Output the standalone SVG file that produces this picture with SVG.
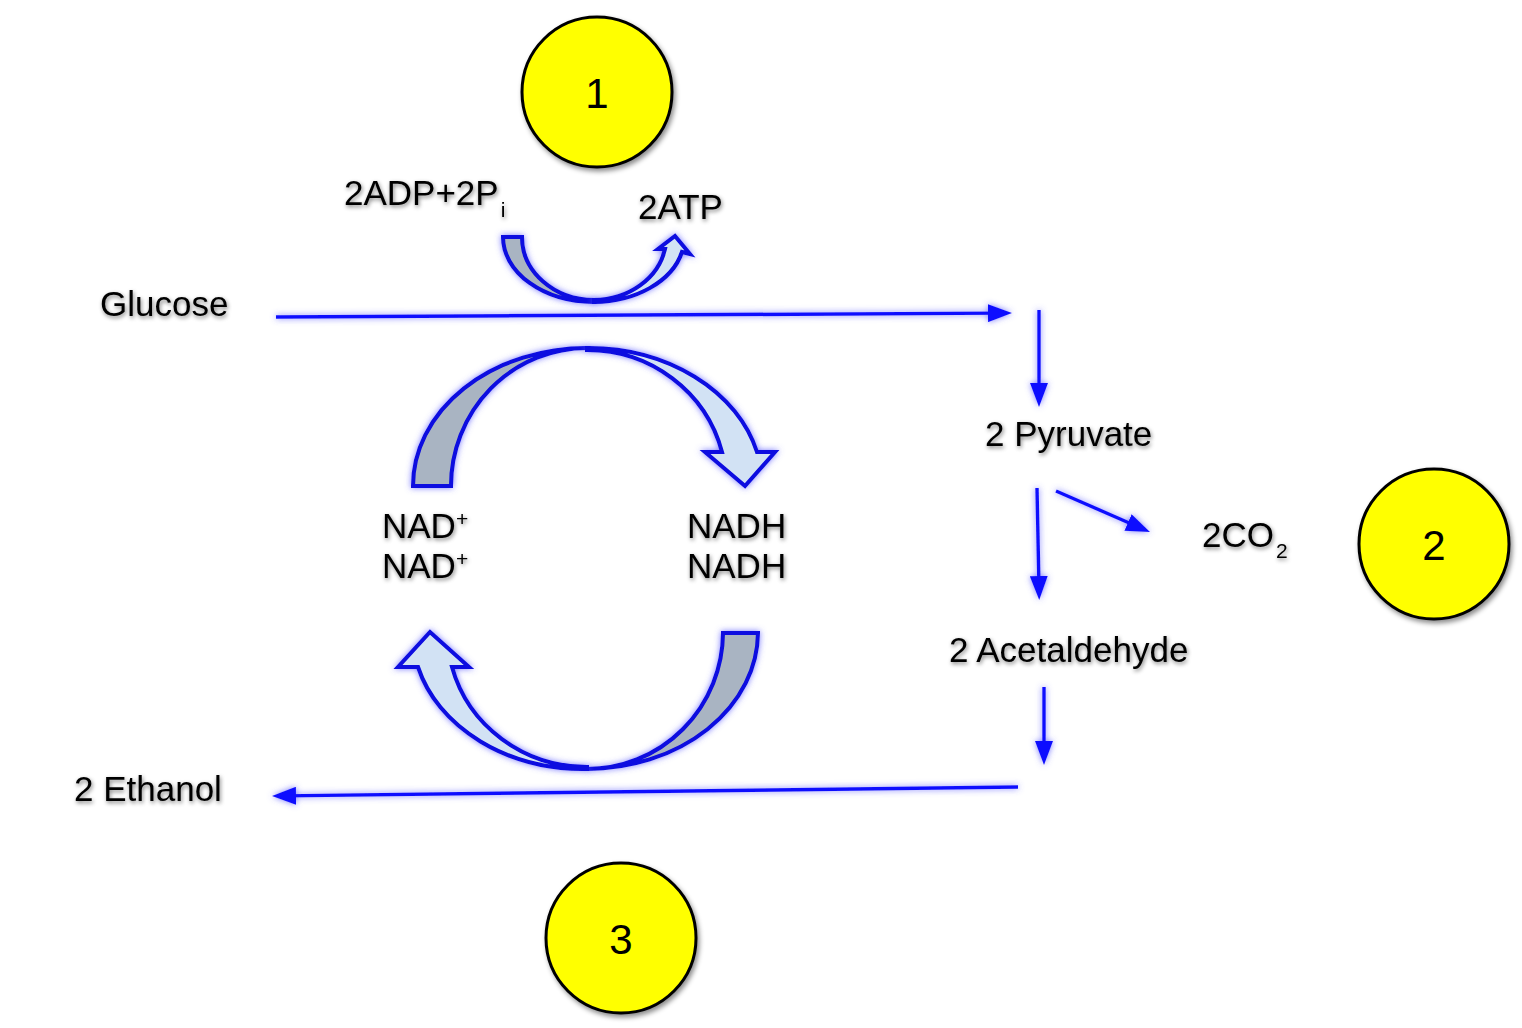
<svg xmlns="http://www.w3.org/2000/svg" width="1522" height="1028" viewBox="0 0 1522 1028">
<defs>
<style>
.t{font-family:"Liberation Sans",Arial,sans-serif;font-size:35px;fill:#000;filter:url(#tsh)}
.s{font-size:21px}
.num{font-family:"Liberation Sans",Arial,sans-serif;font-size:42px;fill:#000;text-anchor:middle}
.ln{stroke:#1010ff;stroke-width:3.4;fill:none;marker-end:url(#ah);filter:url(#glow)}
.band{stroke:#0808e0;stroke-width:4;stroke-linejoin:miter;filter:url(#glow)}
.dark{fill:#a9b4c2}
.light{fill:#d2e2f4}
.circ{fill:#ffff00;stroke:#000;stroke-width:3;filter:url(#csh)}
</style>
<filter id="glow" filterUnits="userSpaceOnUse" x="0" y="0" width="1522" height="1028">
<feGaussianBlur in="SourceAlpha" stdDeviation="3" result="b"/>
<feFlood flood-color="#5a5aff" flood-opacity="0.8"/>
<feComposite in2="b" operator="in"/>
<feMerge><feMergeNode/><feMergeNode in="SourceGraphic"/></feMerge>
</filter>
<filter id="tsh" filterUnits="userSpaceOnUse" x="0" y="0" width="1522" height="1028">
<feGaussianBlur in="SourceAlpha" stdDeviation="2.2" result="b"/>
<feOffset dx="1" dy="2" result="o"/>
<feFlood flood-color="#000" flood-opacity="0.5"/>
<feComposite in2="o" operator="in"/>
<feMerge><feMergeNode/><feMergeNode in="SourceGraphic"/></feMerge>
</filter>
<filter id="csh" filterUnits="userSpaceOnUse" x="0" y="0" width="1522" height="1028">
<feGaussianBlur in="SourceAlpha" stdDeviation="2.5" result="b"/>
<feOffset dx="2" dy="3" result="o"/>
<feFlood flood-color="#000" flood-opacity="0.45"/>
<feComposite in2="o" operator="in"/>
<feMerge><feMergeNode/><feMergeNode in="SourceGraphic"/></feMerge>
</filter>
<marker id="ah" markerUnits="userSpaceOnUse" markerWidth="24" markerHeight="18" refX="12" refY="9" orient="auto">
<path d="M0,0 L24,9 L0,18 Z" fill="#1010ff"/>
</marker>
</defs>
<rect width="1522" height="1028" fill="#fff"/>

<g id="connectors">
<line class="ln" x1="276" y1="317" x2="1000" y2="313.1"/>
<line class="ln" x1="1039" y1="310" x2="1039" y2="395"/>
<line class="ln" x1="1037" y1="488" x2="1039" y2="588"/>
<line class="ln" x1="1056" y1="491" x2="1139" y2="527.2"/>
<line class="ln" x1="1044" y1="687" x2="1044" y2="753"/>
<line class="ln" x1="1018" y1="787" x2="284" y2="795.9"/>
</g>

<g id="atp-arrow">
<path class="band dark" d="M503,237 A91,65 0 0 0 594,302 L594,300 A72,63 0 0 1 522,237 Z"/>
<path class="band light" d="M594,302 A91,65 0 0 0 682,252 L690,254 L675,236 L658,249 L665,249 A73,63 0 0 1 594,300 Z"/>
</g>

<g id="nad-top-arrow">
<path class="band dark" d="M413,486 A174,138 0 0 1 587,348 A136,138 0 0 0 451,486 Z"/>
<path class="band light" d="M587,348 A174,138 0 0 1 757,452 L775,452 L745,486 L705,452 L722,452 A139,136 0 0 0 587,350 Z"/>
</g>

<g id="nad-bottom-arrow">
<path class="band dark" d="M758,633 A171,137 0 0 1 587,769 A136,137 0 0 0 723,633 Z"/>
<path class="band light" d="M587,769 A171,137 0 0 1 418,667 L398,667 L430,632 L469,667 L452,667 A140,135 0 0 0 587,767 Z"/>
</g>

<g id="circle-1"><circle class="circ" cx="597" cy="92" r="75"/><text class="num" x="597" y="108">1</text></g>
<g id="circle-2"><circle class="circ" cx="1434" cy="544" r="75"/><text class="num" x="1434" y="560">2</text></g>
<g id="circle-3"><circle class="circ" cx="621" cy="938" r="75"/><text class="num" x="621" y="954">3</text></g>

<g id="glucose"><text class="t" x="100" y="316">Glucose</text></g>
<g id="adp"><text class="t" x="344" y="205">2ADP+2P<tspan class="s" dx="2" dy="12">i</tspan></text></g>
<g id="atp"><text class="t" x="638" y="219">2ATP</text></g>
<g id="nad"><text class="t" x="382" y="538">NAD<tspan class="s" dy="-12">+</tspan></text><text class="t" x="382" y="578">NAD<tspan class="s" dy="-12">+</tspan></text></g>
<g id="nadh"><text class="t" x="687" y="538">NADH</text><text class="t" x="687" y="578">NADH</text></g>
<g id="pyruvate"><text class="t" x="985" y="446">2 Pyruvate</text></g>
<g id="co2"><text class="t" x="1202" y="547">2CO<tspan class="s" dx="2" dy="11">2</tspan></text></g>
<g id="acetaldehyde"><text class="t" x="949" y="662">2 Acetaldehyde</text></g>
<g id="ethanol"><text class="t" x="74" y="801">2 Ethanol</text></g>
</svg>
